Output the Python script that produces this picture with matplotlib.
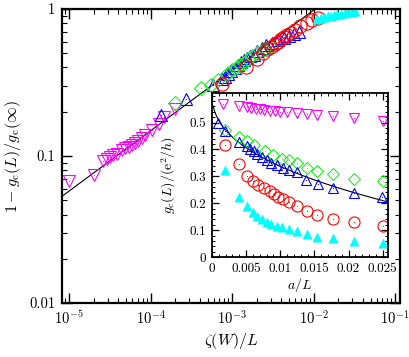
import numpy as np
import matplotlib
matplotlib.use('Agg')
import matplotlib.pyplot as plt
from matplotlib.ticker import LogLocator, MultipleLocator, FixedLocator, NullFormatter

plt.rcParams['font.family'] = 'serif'
plt.rcParams['font.serif'] = ['cmr10', 'DejaVu Serif']
plt.rcParams['mathtext.fontset'] = 'cm'
plt.rcParams['axes.formatter.use_mathtext'] = True

# ===== main panel data: 1 - g_c(L)/g_c(inf) vs zeta(W)/L =====
mag_x = [1.0e-5, 2.0e-5, 2.6e-5, 2.9e-5, 3.2e-5, 3.5e-5, 3.9e-5, 4.5e-5, 4.9e-5, 5.4e-5,
         5.9e-5, 6.5e-5, 7.1e-5, 7.8e-5, 8.5e-5, 1.04e-4, 1.26e-4, 1.45e-4, 2.0e-4]
mag_y = [0.068, 0.074, 0.092, 0.095, 0.098, 0.102, 0.104, 0.110, 0.113, 0.116,
         0.119, 0.122, 0.127, 0.132, 0.139, 0.150, 0.165, 0.185, 0.208]

blu_x = [1.36e-4, 2.7e-4, 5.8e-4, 7.5e-4, 8.3e-4, 9.0e-4, 9.8e-4, 1.08e-3, 1.18e-3, 1.29e-3,
         1.42e-3, 1.54e-3, 1.67e-3, 1.84e-3, 2.04e-3, 2.31e-3, 2.63e-3, 3.08e-3, 3.69e-3,
         4.3e-3, 5.0e-3, 5.8e-3, 6.6e-3]
blu_y = [0.19, 0.245, 0.306, 0.332, 0.347, 0.361, 0.376, 0.397, 0.417, 0.434,
         0.447, 0.462, 0.478, 0.488, 0.515, 0.54, 0.565, 0.59, 0.615,
         0.635, 0.655, 0.68, 0.70]

grn_x = [2.0e-4, 4.2e-4, 5.5e-4, 6.8e-4, 8.6e-4, 1.0e-3, 1.15e-3, 1.26e-3, 1.4e-3, 1.55e-3,
         1.75e-3, 2.05e-3, 2.45e-3, 3.0e-3]
grn_y = [0.228, 0.289, 0.304, 0.33, 0.36, 0.385, 0.405, 0.415, 0.43, 0.455,
         0.475, 0.50, 0.53, 0.56]

red_x = [7.5e-4, 1.5e-3, 2.0e-3, 2.4e-3, 2.7e-3, 3.0e-3, 3.4e-3, 3.7e-3, 4.0e-3, 4.3e-3,
         4.7e-3, 5.3e-3, 6.0e-3, 6.8e-3, 8.2e-3, 9.6e-3, 1.15e-2]
red_y = [0.31, 0.40, 0.46, 0.50, 0.53, 0.55, 0.58, 0.60, 0.62, 0.64,
         0.66, 0.69, 0.72, 0.76, 0.80, 0.84, 0.865]

cyn_x = [1.1e-2, 1.22e-2, 1.35e-2, 1.5e-2, 1.65e-2, 1.8e-2, 1.95e-2, 2.15e-2, 2.4e-2, 2.65e-2,
         2.95e-2, 3.2e-2]
cyn_y = [0.86, 0.87, 0.88, 0.89, 0.90, 0.91, 0.92, 0.93, 0.94, 0.95, 0.96, 0.97]

# power-law fit in main panel: (x/x0)^p
fit_x0 = 0.0105
fit_p = 0.41

# ===== inset data: g_c(L) vs a/L =====
i_mag_x = [0.0017, 0.0039, 0.0052, 0.0058, 0.0064, 0.0070, 0.0077, 0.0085, 0.0092, 0.0100,
           0.0110, 0.0125, 0.0139, 0.0154, 0.0178, 0.0208, 0.0250]
i_mag_y = [0.568, 0.563, 0.557, 0.553, 0.551, 0.549, 0.547, 0.544, 0.543, 0.540,
           0.538, 0.534, 0.532, 0.528, 0.524, 0.516, 0.507]

i_blu_x = [0.00092, 0.0019, 0.00395, 0.0051, 0.0056, 0.0061, 0.0066, 0.0073, 0.0080, 0.0087,
           0.0096, 0.0104, 0.0113, 0.0124, 0.0138, 0.0156, 0.0178, 0.0208, 0.0249]
i_blu_y = [0.500, 0.469, 0.428, 0.412, 0.403, 0.394, 0.385, 0.372, 0.360, 0.349,
           0.341, 0.332, 0.322, 0.316, 0.287, 0.270, 0.256, 0.239, 0.225]

i_grn_x = [0.0019, 0.0040, 0.0051, 0.0062, 0.0078, 0.0090, 0.0103, 0.0113, 0.0125, 0.0139,
           0.0154, 0.0178, 0.0208, 0.0250]
i_grn_y = [0.472, 0.447, 0.432, 0.416, 0.394, 0.378, 0.366, 0.360, 0.349, 0.332,
           0.320, 0.307, 0.291, 0.281]

i_red_x = [0.0019, 0.0039, 0.0051, 0.0060, 0.0068, 0.0076, 0.0085, 0.0091, 0.0097, 0.0104,
           0.0113, 0.0125, 0.0139, 0.0154, 0.0178, 0.0208, 0.0250]
i_red_y = [0.416, 0.345, 0.303, 0.282, 0.268, 0.257, 0.245, 0.235, 0.225, 0.216,
           0.203, 0.188, 0.170, 0.156, 0.143, 0.131, 0.116]

i_cyn_x = [0.0019, 0.0039, 0.0051, 0.0060, 0.0066, 0.0073, 0.0080, 0.0087, 0.0095, 0.0102,
           0.0113, 0.0125, 0.0139, 0.0154, 0.0178, 0.0208, 0.0250]
i_cyn_y = [0.322, 0.225, 0.191, 0.166, 0.154, 0.143, 0.131, 0.122, 0.116, 0.110,
           0.104, 0.097, 0.085, 0.076, 0.069, 0.060, 0.054]

# inset fit: A - B*(a/L)^p
ifit_A = 0.617
ifit_B = 1.847

MAG = '#ff00ff'
BLU = '#0000ff'
GRN = '#22ee22'
RED = '#ff0000'
CYN = '#00ffff'


def open_pts(ax, x, y, marker, color, ms, dot=True):
    ax.plot(x, y, ls='none', marker=marker, ms=ms, mfc='none', mec=color, mew=0.8)
    if dot:
        ax.plot(x, y, ls='none', marker='o', ms=0.8, mfc=color, mec='none')


fig = plt.figure(figsize=(4.09, 3.57), dpi=100)
ax = fig.add_axes([0.1516, 0.151, 0.8264, 0.824])

lx = np.logspace(np.log10(8.2e-6), np.log10(fit_x0), 60)
ax.plot(lx, (lx / fit_x0) ** fit_p, 'k-', lw=0.8, zorder=1)

open_pts(ax, mag_x, mag_y, 'v', MAG, 8.5)
open_pts(ax, blu_x, blu_y, '^', BLU, 8.5)
open_pts(ax, grn_x, grn_y, 'D', GRN, 7)
open_pts(ax, red_x, red_y, 'o', RED, 9.5)
ax.plot(cyn_x, cyn_y, ls='none', marker='^', ms=7.5, color=CYN, mec='none')

ax.set_xscale('log')
ax.set_yscale('log')
ax.set_xlim(8.2e-6, 0.115)
ax.set_ylim(0.01, 1)
ax.xaxis.set_major_locator(FixedLocator([1e-5, 1e-4, 1e-3, 1e-2, 1e-1]))
ax.xaxis.set_minor_locator(LogLocator(base=10, subs=np.arange(2, 10), numticks=20))
ax.xaxis.set_minor_formatter(NullFormatter())
ax.yaxis.set_major_locator(FixedLocator([0.01, 0.1, 1]))
ax.yaxis.set_minor_locator(LogLocator(base=10, subs=np.arange(2, 10), numticks=20))
ax.yaxis.set_minor_formatter(NullFormatter())
ax.set_yticklabels(['0.01', '0.1', '1'])
ax.tick_params(which='both', direction='in', top=True, right=True, labelsize=10.5)
ax.tick_params(which='major', length=7, width=1.0, pad=5)
ax.tick_params(which='minor', length=3.5, width=0.8)
for s in ax.spines.values():
    s.set_linewidth(1.6)
ax.set_xlabel(r'$\zeta(W)/L$', fontsize=11.5, labelpad=2)
ax.set_ylabel(r'$1-g_{\rm c}(L)/g_{\rm c}(\infty)$', fontsize=11.5, labelpad=4)

# ===== inset =====
ins = fig.add_axes([0.518, 0.280, 0.431, 0.4595])
ix = np.linspace(1.9e-4, 0.0258, 200)
ins.plot(ix, ifit_A - ifit_B * ix ** fit_p, 'k-', lw=0.8, zorder=1)

open_pts(ins, i_mag_x, i_mag_y, 'v', MAG, 7.5)
open_pts(ins, i_grn_x, i_grn_y, 'D', GRN, 6)
open_pts(ins, i_blu_x, i_blu_y, '^', BLU, 7.5)
open_pts(ins, i_red_x, i_red_y, 'o', RED, 8)
ins.plot(i_cyn_x, i_cyn_y, ls='none', marker='^', ms=6.5, color=CYN, mec='none')

ins.set_xlim(0, 0.0258)
ins.set_ylim(0, 0.61)
ins.xaxis.set_minor_locator(MultipleLocator(0.001))
ins.yaxis.set_minor_locator(MultipleLocator(0.02))
ins.set_xticks([0, 0.005, 0.01, 0.015, 0.02, 0.025])
ins.set_xticklabels(['0', '0.005', '0.01', '0.015', '0.02', '0.025'])
ins.set_yticks([0, 0.1, 0.2, 0.3, 0.4, 0.5])
ins.set_yticklabels(['0', '0.1', '0.2', '0.3', '0.4', '0.5'])
ins.tick_params(which='both', direction='in', top=True, right=True, labelsize=9.5)
ins.tick_params(which='major', length=5, width=0.9, pad=4)
ins.tick_params(which='minor', length=2.5, width=0.7)
for s in ins.spines.values():
    s.set_linewidth(1.3)
ins.set_xlabel(r'$a/L$', fontsize=10, labelpad=1)
ins.set_ylabel(r'$g_{\rm c}(L)/(\mathrm{e}^2/h)$', fontsize=10, labelpad=8)

fig.savefig('out.png', dpi=100)
